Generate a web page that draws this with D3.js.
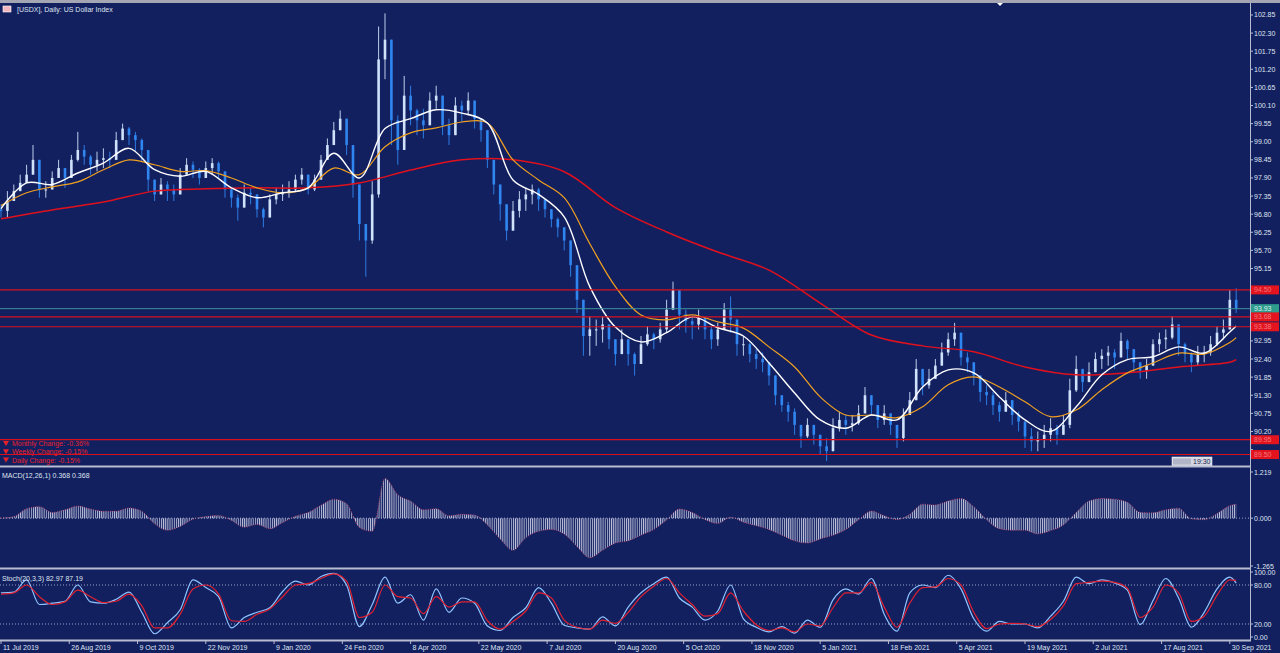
<!DOCTYPE html>
<html lang="en">
<head>
    <meta charset="UTF-8">
    <title>[USDX], Daily: US Dollar Index</title>
    <script src="https://cdn.jsdelivr.net/npm/d3@7"></script>
    <style>
        body {
            margin: 0;
            background: #132060;
            overflow: hidden;
        }
        svg {
            display: block;
            font-family: "Liberation Sans", Arial, sans-serif;
        }
        text {
            fill: #dfe4ef;
            font-size: 7px;
        }
        .change text { fill: #e8202a; }
    </style>
</head>
<body>
<svg id="chart"></svg>
<script>
    // ---- data (one candle = 3 trading days) ----
    const firstOpen = 96.95;
    const closes = [
        96.9, 97.2, 97.5, 97.75, 98.0, 98.45, 97.55, 97.55, 97.9, 98.2,
        97.9, 98.45, 98.75, 98.55, 98.3, 98.45, 98.5, 98.45, 99.05, 99.4,
        99.2, 99.05, 98.75, 97.85, 97.4, 97.7, 97.55, 97.4, 98.0, 98.3,
        98.15, 97.9, 98.2, 98.35, 98.1, 97.55, 97.3, 97.0, 97.45, 97.4,
        96.95, 96.7, 97.25, 97.4, 97.45, 97.55, 97.85, 98.0, 97.55, 97.85,
        98.45, 98.9, 99.35, 99.7, 98.9, 97.7, 96.5, 96.0, 97.4, 101.5,
        102.1, 99.65, 98.75, 100.4, 99.95, 99.65, 99.5, 100.25, 100.4, 99.5,
        99.2, 100.1, 99.95, 100.25, 99.7, 99.35, 98.45, 97.7, 97.1, 96.3,
        96.9, 97.25, 97.4, 97.55, 97.25, 96.95, 96.65, 96.4, 96.0, 95.25,
        94.2, 93.1, 93.3, 93.3, 93.45, 93.0, 92.55, 93.0, 92.55, 92.25,
        92.85, 93.15, 93.0, 93.3, 93.9, 94.5, 93.75, 93.55, 93.45, 93.65,
        93.3, 93.0, 93.3, 93.9, 93.6, 92.85, 92.85, 92.55, 92.4, 92.3,
        91.9, 91.3, 91.0, 90.8, 90.4, 90.05, 90.4, 90.1, 89.75, 89.6,
        90.3, 90.55, 90.4, 90.45, 90.75, 91.3, 91.0, 90.55, 90.75, 90.4,
        90.0, 90.7, 91.15, 92.1, 91.6, 91.8, 92.2, 92.6, 93.0, 93.2,
        92.45, 92.3, 91.9, 91.4, 91.3, 91.0, 90.8, 91.15, 90.7, 90.5,
        90.05, 89.9, 89.95, 90.1, 90.3, 90.1, 90.4, 91.45, 92.1, 91.7,
        92.0, 92.4, 92.5, 92.6, 92.45, 92.95, 92.7, 92.3, 92.05, 92.2,
        92.85, 93.0, 93.05, 93.45, 92.85, 92.55, 92.3, 92.55, 92.6, 92.85,
        93.2, 93.3, 94.2, 93.93
    ];
    const highs = [
        97.1, 97.5, 97.7, 98.0, 98.3, 98.9, 98.1, 97.8, 98.1, 98.45,
        98.2, 98.6, 99.3, 98.9, 98.6, 98.7, 98.8, 98.7, 99.3, 99.55,
        99.45, 99.3, 99.1, 98.4, 97.8, 97.9, 97.8, 97.7, 98.2, 98.5,
        98.4, 98.2, 98.4, 98.5, 98.4, 98.0, 97.6, 97.4, 97.7, 97.6,
        97.3, 97.0, 97.4, 97.6, 97.7, 97.8, 98.0, 98.2, 97.9, 98.0,
        98.6, 99.1, 99.6, 99.95, 99.4, 98.4, 97.0, 96.5, 97.8, 102.5,
        102.9, 101.6, 99.8, 101.0, 100.7, 100.0, 100.0, 100.5, 100.7, 100.0,
        99.7, 100.35, 100.25, 100.5, 100.1, 99.7, 99.0, 98.2, 97.5, 96.9,
        97.2, 97.5, 97.6, 97.7, 97.6, 97.2, 96.9, 96.7, 96.4, 95.7,
        94.9, 93.6, 93.7, 93.6, 93.7, 93.4, 93.0, 93.3, 92.9, 92.6,
        93.1, 93.4, 93.2, 93.5, 94.2, 94.75, 94.4, 93.9, 93.7, 93.9,
        93.6, 93.4, 93.5, 94.1, 94.3, 93.5, 93.1, 92.9, 92.7, 92.6,
        92.2, 91.9, 91.3, 91.1, 90.9, 90.4, 90.6, 90.4, 90.1, 90.0,
        90.6, 90.8, 90.7, 90.7, 91.0, 91.55, 91.3, 90.9, 91.0, 90.7,
        90.4, 90.9, 91.4, 92.4, 92.1, 92.1, 92.4, 92.9, 93.2, 93.5,
        93.0, 92.6, 92.2, 91.9, 91.6, 91.4, 91.1, 91.4, 91.0, 90.8,
        90.5, 90.3, 90.2, 90.4, 90.6, 90.4, 90.7, 91.8, 92.5, 92.1,
        92.3, 92.6, 92.7, 92.8, 92.7, 93.2, 93.0, 92.6, 92.3, 92.4,
        93.0, 93.2, 93.3, 93.7, 93.3, 92.9, 92.6, 92.8, 92.8, 93.1,
        93.4, 93.6, 94.5, 94.55
    ];
    const lows = [
        96.7, 96.7, 97.2, 97.5, 97.8, 98.1, 97.3, 97.3, 97.6, 97.9,
        97.6, 97.9, 98.4, 98.3, 98.0, 98.1, 98.2, 98.2, 98.6, 99.1,
        98.9, 98.7, 98.4, 97.5, 97.2, 97.4, 97.2, 97.2, 97.4, 98.0,
        97.9, 97.7, 97.9, 98.0, 97.9, 97.3, 97.0, 96.6, 97.1, 97.1,
        96.7, 96.4, 96.9, 97.1, 97.2, 97.3, 97.5, 97.7, 97.4, 97.5,
        98.0, 98.5, 99.0, 99.4, 98.6, 97.3, 96.0, 94.9, 95.9, 97.3,
        100.9, 98.9, 98.3, 99.6, 99.5, 99.2, 99.1, 99.9, 100.0, 99.2,
        98.9, 99.7, 99.6, 99.8, 99.4, 99.0, 98.2, 97.4, 96.6, 96.0,
        96.4, 96.7, 96.9, 97.1, 96.9, 96.7, 96.4, 96.1, 95.7, 94.9,
        93.8, 92.5, 92.5, 92.8, 92.9, 92.7, 92.2, 92.6, 92.2, 91.9,
        92.4, 92.8, 92.7, 92.9, 93.2, 93.9, 93.3, 93.2, 93.0, 93.3,
        93.0, 92.7, 92.8, 93.3, 93.2, 92.5, 92.5, 92.3, 92.1, 92.0,
        91.6, 91.0, 90.8, 90.5, 90.1, 89.7, 90.0, 89.8, 89.5, 89.3,
        89.7, 90.2, 90.1, 90.2, 90.4, 90.8, 90.7, 90.3, 90.4, 90.1,
        89.7, 89.9, 90.7, 91.4, 91.3, 91.5, 91.8, 92.2, 92.5, 92.8,
        92.2, 92.0, 91.6, 91.1, 91.0, 90.7, 90.5, 90.8, 90.4, 90.2,
        89.7, 89.6, 89.6, 89.7, 89.9, 89.8, 90.1, 90.3, 91.4, 91.4,
        91.7, 92.0, 92.1, 92.2, 92.1, 92.5, 92.4, 92.0, 91.8, 91.8,
        92.2, 92.6, 92.7, 93.0, 92.5, 92.3, 92.0, 92.2, 92.3, 92.5,
        92.8, 93.0, 93.3, 93.8
    ];

    // moving averages, one value every 4th candle (+ last)
    const fastMA = [
        96.97, 97.75, 97.7, 98.05, 98.35, 98.8, 98.15, 97.95, 98.1, 97.6,
        97.3, 97.45, 97.6, 98.65, 97.9, 99.4, 99.7, 99.97, 99.87, 99.57,
        97.84, 97.4, 96.72, 94.6, 93.37, 92.92, 93.2, 93.68, 93.35, 93.1,
        92.28, 91.37, 90.55, 90.3, 90.7, 90.55, 91.55, 92.07, 91.98, 91.25,
        90.55, 90.2, 90.95, 91.92, 92.38, 92.47, 92.77, 92.58, 93.22, 93.4
    ];
    const slowMA = [
        97.06, 97.45, 97.63, 97.78, 98.15, 98.45, 98.3, 98.1, 98.12, 97.9,
        97.6, 97.45, 97.6, 98.2, 98.0, 98.85, 99.27, 99.42, 99.6, 99.57,
        98.45, 97.84, 97.3, 95.9, 94.6, 93.74, 93.59, 93.74, 93.53, 93.34,
        92.77, 92.16, 91.25, 90.7, 90.7, 90.62, 90.95, 91.62, 91.86, 91.55,
        91.1, 90.65, 90.85, 91.47, 91.98, 92.28, 92.58, 92.55, 92.9, 93.05
    ];
    // long MA, one value every 8th candle (+ last)
    const longMA = [
        96.66, 96.93, 97.17, 97.5, 97.57, 97.6, 97.6, 97.75, 98.14, 98.45,
        98.45, 98.09, 97.0, 96.26, 95.65, 95.1, 94.1, 93.13, 92.8, 92.62,
        92.16, 91.92, 91.98, 92.16, 92.3, 92.38
    ];

    // MACD(12,26,1) and Stoch(20,3,3), one value every 2nd candle (+ last)
    const macdHist = [
        0.0, 0.04, 0.25, 0.3, 0.15, 0.22, 0.32, 0.24, 0.18, 0.18,
        0.27, 0.18, -0.15, -0.32, -0.22, -0.03, 0.04, 0.07, -0.06, -0.24,
        -0.17, -0.28, -0.12, 0.05, 0.15, 0.34, 0.5, 0.38, -0.25, -0.35,
        1.05, 0.62, 0.45, 0.22, 0.25, 0.06, 0.1, 0.08, -0.18, -0.55,
        -0.85, -0.52, -0.35, -0.3, -0.42, -0.75, -1.05, -0.85, -0.66, -0.6,
        -0.45, -0.3, -0.05, 0.24, 0.15, -0.04, -0.14, 0.02, -0.11, -0.2,
        -0.3, -0.45, -0.6, -0.66, -0.55, -0.45, -0.3, -0.04, 0.19, 0.06,
        -0.04, 0.1, 0.37, 0.35, 0.45, 0.52, 0.3, -0.04, -0.28, -0.32,
        -0.32, -0.42, -0.33, -0.18, 0.15, 0.45, 0.52, 0.5, 0.42, 0.15,
        0.14, 0.22, 0.26, -0.02, -0.04, 0.12, 0.33, 0.368
    ];
    const stochMain = [
        68, 69, 88, 50, 52, 55, 80, 54, 52, 58,
        69, 38, 5, 22, 42, 88, 76, 62, 14, 30,
        38, 45, 70, 86, 80, 93, 98, 80, 16, 50,
        92, 52, 65, 26, 74, 38, 60, 52, 17, 10,
        30, 45, 76, 52, 18, 14, 12, 31, 17, 46,
        68, 82, 92, 60, 46, 26, 40, 80, 28, 15,
        8, 16, 6, 26, 15, 57, 74, 66, 90, 35,
        9, 68, 80, 76, 95, 74, 28, 9, 24, 20,
        20, 14, 32, 55, 92, 82, 88, 83, 72, 19,
        56, 90, 60, 15, 38, 74, 92, 82.97
    ];
    const stochSignal = [
        66, 68, 80, 62, 50, 54, 72, 62, 53, 55,
        66, 48, 14, 14, 35, 74, 80, 66, 25, 24,
        35, 43, 62, 80, 82, 90, 97, 86, 30, 38,
        80, 62, 60, 36, 62, 46, 54, 54, 25, 12,
        24, 40, 68, 60, 26, 15, 12, 26, 21, 38,
        62, 78, 90, 68, 50, 32, 36, 68, 40, 19,
        10, 14, 8, 20, 17, 45, 68, 68, 84, 46,
        15, 52, 76, 77, 90, 80, 38, 13, 20, 21,
        20, 16, 27, 48, 82, 84, 86, 84, 75, 30,
        46, 80, 68, 24, 32, 64, 88, 87.19
    ];

    const levels = [94.50, 93.68, 93.38, 89.95, 89.50];
    const lastPrice = 93.93;
    const priceTicks = ["102.85", "102.30", "101.75", "101.20", "100.65", "100.10", "99.55", "99.00",
        "98.45", "97.90", "97.35", "96.80", "96.25", "95.70", "95.15", "94.60", "94.05", "93.50",
        "92.95", "92.40", "91.85", "91.30", "90.75", "90.20", "89.65"];
    const macdTicks = ["1.219", "0.000", "-1.265"];
    const stochTicks = ["100.00", "80.00", "20.00", "0.00"];
    const dateLabels = ["11 Jul 2019", "26 Aug 2019", "9 Oct 2019", "22 Nov 2019", "9 Jan 2020",
        "24 Feb 2020", "8 Apr 2020", "22 May 2020", "7 Jul 2020", "20 Aug 2020", "5 Oct 2020",
        "18 Nov 2020", "5 Jan 2021", "18 Feb 2021", "5 Apr 2021", "19 May 2021", "2 Jul 2021",
        "17 Aug 2021", "30 Sep 2021"];
    const changeLabels = ["Monthly Change:  -0.36%", "Weekly Change:  -0.15%", "Daily Change:  -0.15%"];

    // ---- layout ----
    const W = 1280, H = 653, axisX = 1250;
    const svg = d3.select("#chart").attr("width", W).attr("height", H);

    const x = d3.scaleLinear().domain([0, 576]).range([1, 1229.8]);   // trading days
    const yP = d3.scaleLinear().domain([89.2, 103.15]).range([464.4, 5.1]);
    const yM = d3.scaleLinear().domain([-1.265, 1.219]).range([566, 472]);
    const yS = d3.scaleLinear().domain([0, 100]).range([637, 572]);

    const n = closes.length;
    const pick = step => [...d3.range(0, n - 1, step), n - 1];   // candle indices
    const series = (vals, step) => pick(step).map((i, k) => ({ day: i * 3, v: vals[k] }));

    const defs = svg.append("defs");
    [["clipMain", 5, 466], ["clipMacd", 468, 568], ["clipStoch", 570, 640]].forEach(([id, t, b]) => {
        defs.append("clipPath").attr("id", id)
            .append("rect").attr("x", 0).attr("y", t).attr("width", axisX).attr("height", b - t);
    });
    // thin vertical stripes, one per trading day, for the histogram
    const pat = defs.append("pattern").attr("id", "hatch")
        .attr("patternUnits", "userSpaceOnUse")
        .attr("width", x(1) - x(0)).attr("height", 8).attr("x", 1);
    pat.append("line").attr("x1", 0.5).attr("x2", 0.5).attr("y1", 0).attr("y2", 8)
        .attr("stroke", "#cdd0e8").attr("stroke-width", 0.9);

    // frame
    svg.append("rect").attr("width", W).attr("height", H).attr("fill", "#132060");
    svg.append("rect").attr("width", W).attr("height", 3).attr("fill", "#a4a6b4");
    svg.append("path").attr("d", "M997,3 L1003,3 L1000,6 Z").attr("fill", "#ffffff");

    // ---- main price panel ----
    const main = svg.append("g").attr("clip-path", "url(#clipMain)");

    const bars = closes.map((c, i) => {
        const o = i ? closes[i - 1] : firstOpen;
        return { day: i * 3, o, c, h: Math.max(highs[i], o, c), l: Math.min(lows[i], o, c) };
    });
    const bullCol = "#cfe2fa", bearCol = "#2f86f0";

    main.selectAll(".wick").data(bars).join("line")
        .attr("x1", d => x(d.day)).attr("x2", d => x(d.day))
        .attr("y1", d => yP(d.h)).attr("y2", d => yP(d.l))
        .attr("stroke", d => d.c >= d.o ? bullCol : bearCol).attr("stroke-width", 0.9);
    main.selectAll(".body").data(bars).join("rect")
        .attr("x", d => x(d.day) - 1.3).attr("width", 2.6)
        .attr("y", d => yP(Math.max(d.o, d.c)))
        .attr("height", d => Math.max(1, Math.abs(yP(d.o) - yP(d.c))))
        .attr("fill", d => d.c >= d.o ? bullCol : bearCol);

    const priceLine = d3.line().x(d => x(d.day)).y(d => yP(d.v)).curve(d3.curveCatmullRom);
    main.append("path").datum(series(longMA, 8)).attr("d", priceLine)
        .attr("fill", "none").attr("stroke", "#e0101c").attr("stroke-width", 1.5);
    main.append("path").datum(series(slowMA, 4)).attr("d", priceLine)
        .attr("fill", "none").attr("stroke", "#f0a020").attr("stroke-width", 1.2);
    main.append("path").datum(series(fastMA, 4)).attr("d", priceLine)
        .attr("fill", "none").attr("stroke", "#ffffff").attr("stroke-width", 1.4);

    // horizontal levels
    svg.append("line").attr("x1", 0).attr("x2", axisX)
        .attr("y1", yP(lastPrice)).attr("y2", yP(lastPrice))
        .attr("stroke", "#3e8f9a").attr("stroke-width", 1);
    svg.selectAll(".level").data(levels).join("line")
        .attr("x1", 0).attr("x2", axisX)
        .attr("y1", d => yP(d)).attr("y2", d => yP(d))
        .attr("stroke", "#d8101c").attr("stroke-width", 1.2);

    // change info, bottom left
    const ch = svg.append("g").attr("class", "change");
    changeLabels.forEach((t, i) => {
        const yy = 446 + i * 8.3;
        ch.append("path").attr("d", `M3,${yy - 5} L9,${yy - 5} L6,${yy} Z`).attr("fill", "#e8202a");
        ch.append("text").attr("x", 12).attr("y", yy).text(t);
    });

    // bar timer box
    const tb = svg.append("g").attr("transform", "translate(1172,457)");
    tb.append("rect").attr("width", 40).attr("height", 9).attr("fill", "#d4d7e2").attr("stroke", "#ffffff").attr("stroke-width", 0.5);
    tb.selectAll("line").data(d3.range(9)).join("line")
        .attr("x1", d => 2 + d * 2).attr("x2", d => 2 + d * 2).attr("y1", 1.5).attr("y2", 7.5)
        .attr("stroke", "#7d82a0").attr("stroke-width", 0.8);
    tb.append("text").attr("x", 21).attr("y", 7).style("fill", "#1a2050").text("19:30");

    // header
    svg.append("rect").attr("x", 3).attr("y", 6).attr("width", 8).attr("height", 6)
        .attr("fill", "#f2b8c0").attr("stroke", "#ffffff").attr("stroke-width", 0.6);
    svg.append("text").attr("x", 17).attr("y", 12).text("[USDX], Daily:  US Dollar Index");

    // ---- MACD panel ----
    const macd = svg.append("g").attr("clip-path", "url(#clipMacd)");
    const macdData = series(macdHist, 2);
    macd.append("line").attr("x1", 0).attr("x2", axisX).attr("y1", yM(0)).attr("y2", yM(0))
        .attr("stroke", "#9aa2c4").attr("stroke-dasharray", "1,2");
    macd.append("path").datum(macdData)
        .attr("d", d3.area().x(d => x(d.day)).y0(yM(0)).y1(d => yM(d.v)).curve(d3.curveMonotoneX))
        .attr("fill", "url(#hatch)");
    macd.append("path").datum(macdData)
        .attr("d", d3.line().x(d => x(d.day)).y(d => yM(d.v)).curve(d3.curveMonotoneX))
        .attr("fill", "none").attr("stroke", "#d8405e").attr("stroke-width", 0.9)
        .attr("stroke-dasharray", "1,1.5").attr("opacity", 0.8);
    svg.append("text").attr("x", 2).attr("y", 478).text("MACD(12,26,1) 0.368 0.368");

    // ---- Stochastic panel ----
    const st = svg.append("g").attr("clip-path", "url(#clipStoch)");
    [80, 20].forEach(v => {
        st.append("line").attr("x1", 0).attr("x2", axisX).attr("y1", yS(v)).attr("y2", yS(v))
            .attr("stroke", "#9aa2c4").attr("stroke-dasharray", "1,2");
    });
    const stLine = d3.line().x(d => x(d.day)).y(d => yS(d.v)).curve(d3.curveMonotoneX);
    st.append("path").datum(series(stochMain, 2)).attr("d", stLine)
        .attr("fill", "none").attr("stroke", "#8fc4ff").attr("stroke-width", 1.2);
    st.append("path").datum(series(stochSignal, 2)).attr("d", stLine)
        .attr("fill", "none").attr("stroke", "#e02030").attr("stroke-width", 1.2);
    svg.append("text").attr("x", 2).attr("y", 581).text("Stoch(20,3,3) 82.97 87.19");

    // ---- separators and right axis ----
    const sepCol = "#b8bcd0";
    [466.5, 568.5, 640.5].forEach(yy => {
        svg.append("line").attr("x1", 0).attr("x2", axisX + 1).attr("y1", yy).attr("y2", yy)
            .attr("stroke", sepCol).attr("stroke-width", 2);
    });
    svg.append("line").attr("x1", axisX + 0.5).attr("x2", axisX + 0.5).attr("y1", 3).attr("y2", 641)
        .attr("stroke", sepCol).attr("stroke-width", 1);

    // price tags on the axis; tick labels under a tag are covered by it, as in the terminal
    const tagged = [lastPrice, ...levels];
    const covered = v => tagged.some(t => Math.abs(yP(t) - yP(v)) < 7);

    const axisLabels = (ticks, scale, skip) => {
        const g = svg.append("g");
        g.selectAll("line").data(ticks).join("line")
            .attr("x1", axisX).attr("x2", axisX + 3)
            .attr("y1", d => scale(+d)).attr("y2", d => scale(+d)).attr("stroke", sepCol);
        g.selectAll("text").data(ticks.filter(d => !(skip && skip(+d)))).join("text")
            .attr("x", axisX + 4).attr("y", d => scale(+d) + 2.5).text(d => d);
    };
    axisLabels(priceTicks, yP, covered);
    axisLabels(macdTicks, yM);
    axisLabels(stochTicks, yS);

    const tag = (v, fill, txtCol) => {
        const g = svg.append("g").attr("transform", `translate(${axisX + 1},${yP(v) - 4.5})`);
        g.append("rect").attr("width", 28).attr("height", 9).attr("fill", fill);
        g.append("text").attr("x", 3).attr("y", 7).style("fill", txtCol).text(v.toFixed(2));
    };
    tag(lastPrice, "#2e9c8c", "#d8ecec");
    levels.forEach(v => tag(v, "#e3141e", "#f07880"));

    // ---- date axis ----
    const dg = svg.append("g");
    dateLabels.forEach((t, k) => {
        const px = x(k * 32);
        dg.append("line").attr("x1", px).attr("x2", px).attr("y1", 641).attr("y2", 644).attr("stroke", sepCol);
        dg.append("text").attr("x", px + 2).attr("y", 650).text(t);
    });
</script>
</body>
</html>
